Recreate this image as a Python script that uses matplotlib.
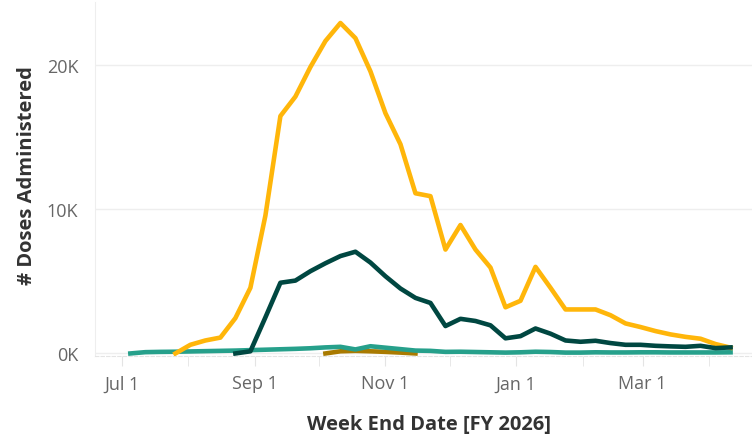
import pandas as pd
import numpy as np
import matplotlib.pyplot as plt
import matplotlib.dates as mdates
from matplotlib.ticker import FuncFormatter


# weekly totals, week ending on Saturday (FY 2026)
week_end = pd.date_range("2025-07-05", periods=41, freq="7D")

yellow_doses = [np.nan, np.nan, np.nan, 0, 600, 900, 1100, 2450, 4550, 9550,
                16450, 17800, 19850, 21650, 22900, 21850, 19550, 16650, 14500, 11100,
                10900, 7200, 8900, 7200, 5950, 3200, 3650, 6000, 4550, 3050,
                3050, 3050, 2650, 2080, 1830, 1550, 1320, 1150, 1020, 650,
                400]

dark_doses = [np.nan, np.nan, np.nan, np.nan, np.nan, np.nan, np.nan, 0, 150, 2500,
              4900, 5050, 5700, 6250, 6750, 7050, 6300, 5350, 4500, 3850,
              3500, 1900, 2400, 2250, 1950, 1050, 1200, 1730, 1370, 900,
              810, 880, 720, 600, 600, 530, 490, 460, 530, 370,
              420]

teal_doses = [0, 90, 110, 120, 140, 160, 180, 200, 230, 260,
              290, 320, 360, 420, 460, 280, 500, 400, 300, 200,
              180, 110, 120, 100, 80, 60, 80, 120, 100, 60,
              60, 80, 70, 70, 80, 80, 70, 70, 70, 70,
              80]

brown_doses = [np.nan] * 13 + [0, 150, 180, 150, 110, 60, 0] + [np.nan] * 21

plt.rcParams['font.family'] = ['Open Sans', 'DejaVu Sans']

fig = plt.figure(figsize=(7.52, 4.39), dpi=100)
ax = fig.add_axes([0.1263, 0.186, 0.8737, 0.807])

ax.plot(week_end, brown_doses, color="#A97A00", lw=3.3, zorder=2)
ax.plot(week_end, teal_doses, color="#26A08B", lw=3.3, zorder=3)
ax.plot(week_end, yellow_doses, color="#FFB60A", lw=3.3, zorder=4)
ax.plot(week_end, dark_doses, color="#004741", lw=3.3, zorder=5)

ax.set_ylim(-200, 24350)
ax.set_xlim(pd.Timestamp("2025-06-18 12:00"), pd.Timestamp("2026-04-21"))

# gridlines / spines
ax.set_yticks([0, 10000, 20000])
ax.yaxis.set_major_formatter(FuncFormatter(lambda v, p: "%dK" % (v / 1000)))
ax.grid(axis="y", color="#eeeeee", lw=1)
ax.set_axisbelow(True)
for s in ["top", "right"]:
    ax.spines[s].set_visible(False)
ax.spines["left"].set_color("#eeeeee")
ax.spines["bottom"].set_color("#e4e4e4")
ax.spines["bottom"].set_linestyle((0, (3, 2)))

ax.xaxis.set_major_locator(mdates.MonthLocator(bymonth=[7, 9, 11, 1, 3]))
ax.xaxis.set_minor_locator(mdates.MonthLocator())
ax.xaxis.set_major_formatter(FuncFormatter(lambda v, p: mdates.num2date(v).strftime("%b ") + str(mdates.num2date(v).day)))
ax.tick_params(axis="x", which="both", length=7, color="#e4e4e4", labelsize=13, labelcolor="#666666", pad=6)
ax.tick_params(axis="y", length=0, labelsize=13, labelcolor="#666666", pad=12)

ax.set_xlabel("Week End Date [FY 2026]", fontsize=14.5, fontweight="bold", color="#333333", va="center")
ax.set_ylabel("# Doses Administered", fontsize=14.5, fontweight="bold", color="#333333", va="center")
ax.xaxis.set_label_coords(0.508, -0.191)
ax.yaxis.set_label_coords(-0.1035, 0.512)

fig.savefig("out.png", dpi=100)
